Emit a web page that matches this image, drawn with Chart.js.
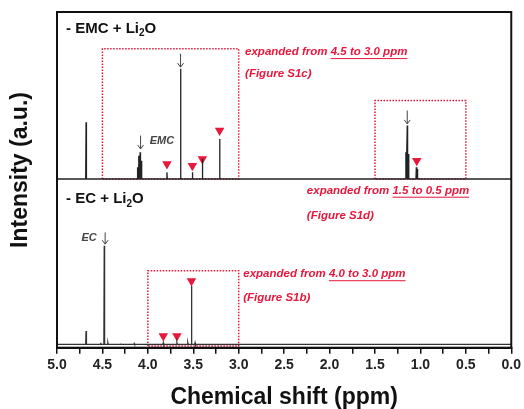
<!DOCTYPE html>
<html>
<head>
<meta charset="utf-8">
<style>
  body { margin: 0; background: #fff; }
  #nmrChart { display: block; }
</style>
</head>
<body>
<canvas id="nmrChart" width="524" height="409"></canvas>

<!-- Chart.js CDN -->
<script src="https://cdn.jsdelivr.net/npm/chart.js"></script>

<script>
  // EMC + Li2O spectrum: peak positions (ppm) and heights above its baseline
  const emcShift  = [4.68, 4.115, 4.10, 4.085, 4.07, 3.79, 3.64, 3.51, 3.40, 3.21, 1.16, 1.145, 1.13, 1.045, 1.035];
  const emcHeight = [0.34, 0.07, 0.14, 0.16, 0.11, 0.04, 0.66, 0.04, 0.12, 0.24, 0.16, 0.32, 0.15, 0.07, 0.06];
  const emcBase = 1.0;

  // EC + Li2O spectrum
  const ecShift  = [4.68, 4.52, 4.48, 4.44, 4.30, 4.15, 3.83, 3.68, 3.56, 3.52, 3.48];
  const ecHeight = [0.08, 0.01, 0.59, 0.01, 0.005, 0.005, 0.01, 0.01, 0.01, 0.35, 0.01];
  const ecBase = 0.01;

  // red triangle markers
  const emcMarkShift = [3.79, 3.51, 3.40, 3.21, 1.04];
  const emcMarkLevel = [1.09, 1.08, 1.12, 1.29, 1.11];
  const ecMarkShift  = [3.83, 3.68, 3.52];
  const ecMarkLevel  = [0.06, 0.06, 0.39];

  // dotted "expanded" regions
  const boxFrom   = [4.5, 1.5, 4.0];
  const boxTo     = [3.0, 0.5, 3.0];
  const boxTop    = [1.78, 1.47, 0.45];
  const boxBottom = [1.0, 1.0, 0.0];

  // arrows pointing at the solvent peaks
  const arrowShift = [3.64, 4.08, 1.145, 4.47];
  const arrowFrom  = [1.75, 1.26, 1.41, 0.68];
  const arrowTo    = [1.67, 1.18, 1.33, 0.61];

  const FONT = 'Arial, "Liberation Sans", sans-serif';
  const RED = '#e8173c';

  function spectrum(shifts, heights, base) {
    const w = 0.004;
    const pts = [{ x: 5.0, y: base }];
    const order = shifts.map((s, i) => i).sort((a, b) => shifts[b] - shifts[a]);
    order.forEach(i => {
      pts.push({ x: shifts[i] + w, y: base });
      pts.push({ x: shifts[i], y: base + heights[i] });
      pts.push({ x: shifts[i] - w, y: base });
    });
    pts.push({ x: 0.0, y: base });
    return pts;
  }

  function boxData(i) {
    return [
      { x: boxFrom[i], y: boxBottom[i] }, { x: boxFrom[i], y: boxTop[i] },
      { x: boxTo[i], y: boxTop[i] }, { x: boxTo[i], y: boxBottom[i] },
      { x: boxFrom[i], y: boxBottom[i] }
    ];
  }

  const lineStyle = { showLine: true, pointRadius: 0, borderWidth: 1.3, tension: 0 };
  const datasets = [
    Object.assign({ label: 'EMC + Li2O', data: spectrum(emcShift, emcHeight, emcBase), borderColor: '#222' }, lineStyle),
    Object.assign({ label: 'EC + Li2O', data: spectrum(ecShift, ecHeight, ecBase), borderColor: '#333', borderWidth: 2 }, lineStyle)
  ];
  boxFrom.forEach((f, i) => {
    datasets.push({
      label: 'box' + i, data: boxData(i), showLine: true, pointRadius: 0,
      borderColor: RED, borderWidth: 1.5, borderDash: [1.5, 1.5]
    });
  });
  datasets.push({
    label: 'marks',
    data: emcMarkShift.map((s, i) => ({ x: s, y: emcMarkLevel[i] }))
      .concat(ecMarkShift.map((s, i) => ({ x: s, y: ecMarkLevel[i] }))),
    pointStyle: 'triangle', rotation: 180, pointRadius: 5.5,
    backgroundColor: RED, borderColor: RED, borderWidth: 0
  });

  function redNote(ctx, x, y, plain, underlined) {
    ctx.font = 'italic bold 11.5px ' + FONT;
    ctx.fillStyle = RED;
    ctx.textAlign = 'left';
    ctx.textBaseline = 'middle';
    ctx.fillText(plain, x, y);
    if (underlined) {
      const x2 = x + ctx.measureText(plain).width;
      const w = ctx.measureText(underlined).width;
      ctx.fillText(underlined, x2, y);
      ctx.strokeStyle = RED;
      ctx.lineWidth = 1;
      ctx.beginPath();
      ctx.moveTo(x2, y + 6.5);
      ctx.lineTo(x2 + w, y + 6.5);
      ctx.stroke();
    }
  }

  function panelLabel(ctx, x, y, name) {
    ctx.fillStyle = '#111';
    ctx.textAlign = 'left';
    ctx.textBaseline = 'middle';
    ctx.font = 'bold 15px ' + FONT;
    const a = '- ' + name + ' + Li';
    ctx.fillText(a, x, y);
    let cx = x + ctx.measureText(a).width;
    ctx.font = 'bold 10px ' + FONT;
    ctx.fillText('2', cx, y + 5);
    cx += ctx.measureText('2').width;
    ctx.font = 'bold 15px ' + FONT;
    ctx.fillText('O', cx, y);
  }

  const annotations = {
    id: 'annotations',
    afterDatasetsDraw(chart) {
      const { ctx, chartArea: a, scales: { x, y } } = chart;
      ctx.save();

      // frame
      ctx.strokeStyle = '#111';
      ctx.lineWidth = 2;
      ctx.strokeRect(a.left, a.top, a.right - a.left, a.bottom - a.top);

      // arrows
      ctx.strokeStyle = '#444';
      ctx.lineWidth = 1;
      arrowShift.forEach((s, i) => {
        const px = x.getPixelForValue(s);
        const y1 = y.getPixelForValue(arrowFrom[i]);
        const y2 = y.getPixelForValue(arrowTo[i]);
        ctx.beginPath();
        ctx.moveTo(px, y1);
        ctx.lineTo(px, y2);
        ctx.moveTo(px - 3, y2 - 4);
        ctx.lineTo(px, y2);
        ctx.lineTo(px + 3, y2 - 4);
        ctx.stroke();
      });

      // solvent labels
      ctx.font = 'italic bold 11px ' + FONT;
      ctx.fillStyle = '#444';
      ctx.textBaseline = 'middle';
      ctx.textAlign = 'left';
      ctx.fillText('EMC', x.getPixelForValue(3.98), y.getPixelForValue(1.23));
      ctx.fillText('EC', x.getPixelForValue(4.73), y.getPixelForValue(0.65));

      panelLabel(ctx, x.getPixelForValue(4.9), y.getPixelForValue(1.9), 'EMC');
      panelLabel(ctx, x.getPixelForValue(4.9), y.getPixelForValue(0.88), 'EC');

      redNote(ctx, x.getPixelForValue(2.93), y.getPixelForValue(1.76), 'expanded from ', '4.5 to 3.0 ppm');
      redNote(ctx, x.getPixelForValue(2.93), y.getPixelForValue(1.63), '(Figure S1c)');
      redNote(ctx, x.getPixelForValue(2.25), y.getPixelForValue(0.93), 'expanded from ', '1.5 to 0.5 ppm');
      redNote(ctx, x.getPixelForValue(2.25), y.getPixelForValue(0.78), '(Figure S1d)');
      redNote(ctx, x.getPixelForValue(2.95), y.getPixelForValue(0.43), 'expanded from ', '4.0 to 3.0 ppm');
      redNote(ctx, x.getPixelForValue(2.95), y.getPixelForValue(0.29), '(Figure S1b)');

      // y axis title
      ctx.translate(21, 170);
      ctx.rotate(-Math.PI / 2);
      ctx.font = 'bold 23px ' + FONT;
      ctx.fillStyle = '#111';
      ctx.textAlign = 'center';
      ctx.fillText('Intensity (a.u.)', 0, 0);
      ctx.restore();
    }
  };

  new Chart(document.getElementById('nmrChart'), {
    type: 'scatter',
    data: { datasets },
    options: {
      responsive: false,
      animation: false,
      layout: { padding: { left: 57, right: 12, top: 12, bottom: 0 } },
      plugins: { legend: { display: false }, tooltip: { enabled: false } },
      scales: {
        x: {
          type: 'linear', reverse: true, min: 0, max: 5,
          grid: { drawOnChartArea: false, drawTicks: true, tickLength: 6, color: '#111', lineWidth: 1.5 },
          border: { display: true, color: '#111', width: 2 },
          ticks: {
            stepSize: 0.25, autoSkip: false, maxRotation: 0, padding: 3,
            color: '#222', font: { family: FONT, size: 14, weight: 'bold' },
            callback: v => (Math.round(v * 4) % 2 === 0) ? v.toFixed(1) : ''
          },
          title: {
            display: true, text: 'Chemical shift (ppm)', color: '#111',
            font: { family: FONT, size: 23, weight: 'bold', lineHeight: 1.0 },
            padding: { top: 9.5, bottom: 0 }
          }
        },
        y: { display: false, min: -0.01, max: 2.0 }
      }
    },
    plugins: [annotations]
  });
</script>
</body>
</html>
